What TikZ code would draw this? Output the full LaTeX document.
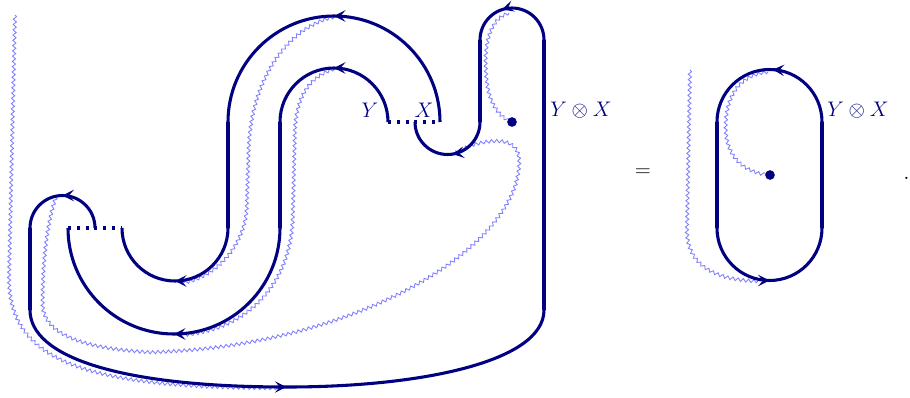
\documentclass[tikz,border=0pt]{standalone}
\usepackage{tikz}
\usepackage{xcolor}
\usetikzlibrary{arrows.meta,decorations.markings,decorations.pathmorphing}
\definecolor{strandBlue}{HTML}{000080}
\definecolor{waveBlue}{HTML}{8080FF}

\begin{document}
\begin{tikzpicture}[x=0.02cm,y=0.02cm,
    font=\fontsize{13}{15}\selectfont,
    strand/.style={draw=strandBlue,line width=1.75pt},
    gap/.style={draw=strandBlue,line width=1.75pt,dash pattern=on 1.7pt off 3.3pt},
    wave/.style={draw=waveBlue,line width=0.5pt,decorate,
      decoration={snake,amplitude=0.9pt,segment length=3pt}},
    flow/.style={postaction={decorate},decoration={markings,
      mark=at position #1 with {\arrow{Stealth[length=6.5pt,width=6.5pt,inset=2.8pt]}}}},
    flow/.default=0.5,
    lbl/.style={text=strandBlue},
    bead/.style={circle,fill=strandBlue,inner sep=0pt,minimum size=5.5pt}]
    \useasboundingbox (0,0) rectangle (910,397);

    \coordinate (Yend) at (388,275);
    \coordinate (Xend) at (440,275);
    \coordinate (Lend) at (68,169);
    \coordinate (Rend) at (122,169);
    \coordinate (dotL) at (512,275);
    \coordinate (dotR) at (770,222);

    % wavy lines, left side
    \draw[wave] (15,382) -- (9,120) .. controls (9,35) and (90,10) .. (283,10);
    \draw[wave] (56,200) .. controls (46,170) and (43,130) .. (43,95)
      .. controls (43,65) and (80,50) .. (150,46)
      .. controls (330,50) and (490,130) .. (517,215)
      .. controls (525,245) and (520,262) .. (485,256)
      .. controls (470,253) and (460,248) .. (455,244);
    \draw[wave] (334,380) .. controls (290,370) and (253,320) .. (250,250)
      -- (248,190) .. controls (246,150) and (215,118) .. (182,114);
    \draw[wave] (334,328) .. controls (310,320) and (296,300) .. (296,260)
      -- (294,180) .. controls (292,110) and (245,66) .. (182,62);
    \draw[wave] (509,384) .. controls (490,378) and (486,350) .. (487,330)
      .. controls (488,300) and (495,285) .. (dotL);

    % outer strand
    \draw[strand,flow] (95,169) arc[start angle=0,end angle=180,radius=32.5];
    \draw[strand] (30,169) -- (30,87);
    \draw[strand,flow] (30,87) .. controls (30,40) and (120,10) .. (287,10)
      .. controls (420,10) and (544,35) .. (544,87);
    \draw[strand] (544,87) -- (544,357);
    \draw[strand,flow=0.6] (544,357) arc[start angle=0,end angle=180,radius=32];
    \draw[strand] (480,357) -- (480,275);
    \draw[strand,flow=0.45] (480,275) arc[start angle=0,end angle=-180,radius=32.5];

    % middle strand
    \draw[strand,flow] (Xend) arc[start angle=0,end angle=180,radius=106];
    \draw[strand] (228,275) -- (228,169);
    \draw[strand,flow] (228,169) arc[start angle=0,end angle=-180,radius=53];

    % inner strand
    \draw[strand,flow] (Yend) arc[start angle=0,end angle=180,radius=54];
    \draw[strand] (280,275) -- (280,169);
    \draw[strand,flow] (280,169) arc[start angle=0,end angle=-180,radius=106];

    \draw[gap] (Yend) -- (Xend);
    \draw[gap] (Lend) -- (Rend);

    \node[bead] (beadL) at (dotL) {};
    \node[lbl] (lblY) at (370,287) {$Y$};
    \node[lbl] (lblX) at (424,287) {$X$};
    \node[lbl] (tensorL) at (581,287) {$Y\otimes X$};

    \node (eq) at (643,224) {$=$};

    % right side
    \draw[wave] (690,327) -- (687,170) .. controls (686,130) and (720,117) .. (764,117);
    \draw[wave] (768,325) .. controls (740,322) and (727,300) .. (727,270)
      .. controls (727,240) and (745,225) .. (dotR);
    \draw[strand] (822,169) -- (822,275);
    \draw[strand,flow=0.48] (822,275) arc[start angle=0,end angle=180,radius=52.5];
    \draw[strand] (717,275) -- (717,169);
    \draw[strand,flow] (717,169) arc[start angle=180,end angle=360,radius=52.5];
    \node[bead] (beadR) at (dotR) {};
    \node[lbl] (tensorR) at (858,287) {$Y\otimes X$};

    \node (stop) [anchor=base west,inner sep=0pt] at (903,218) {.};
  \end{tikzpicture}
\end{document}
